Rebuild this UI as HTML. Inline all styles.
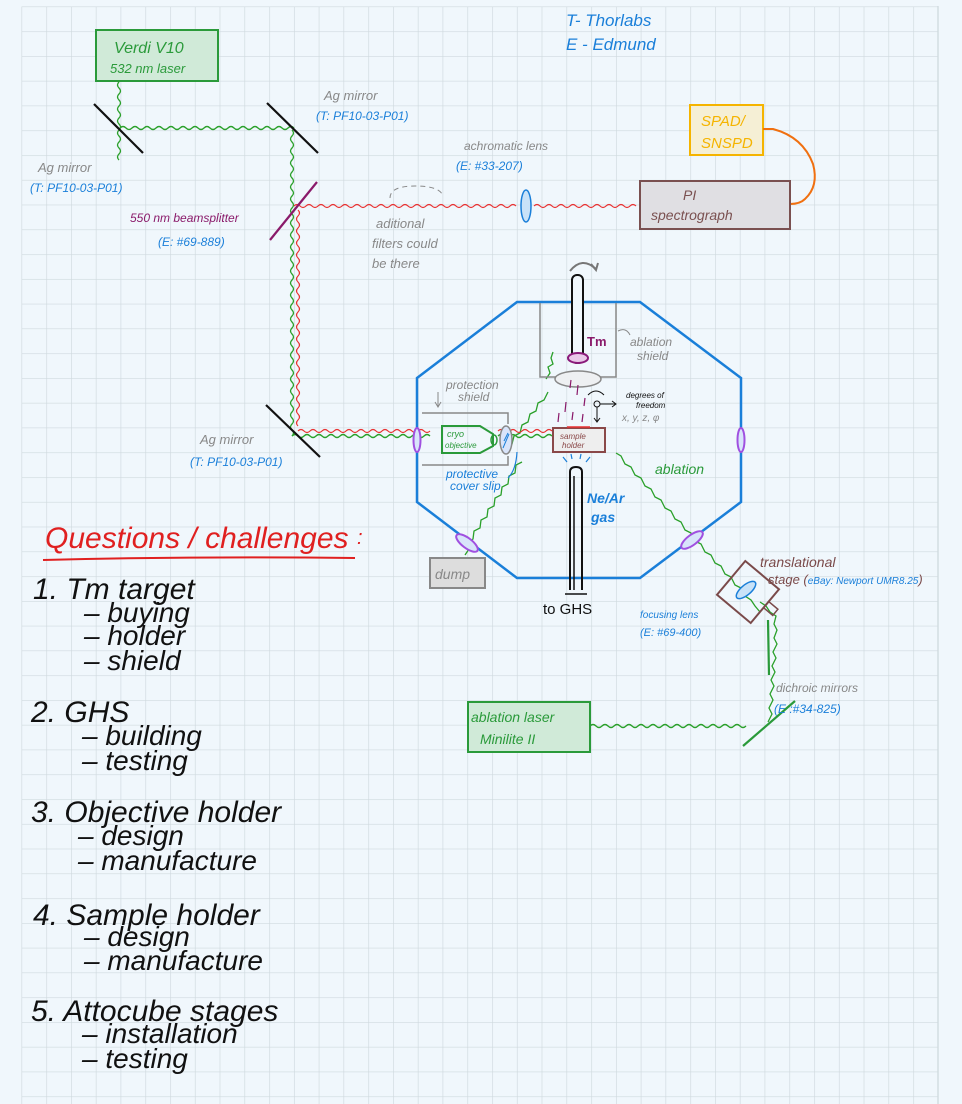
<!DOCTYPE html>
<html><head><meta charset="utf-8"><style>
html,body{margin:0;padding:0;background:#f0f7fc}
svg{display:block}
text{font-family:"Liberation Sans",sans-serif;font-style:italic}
</style></head><body>
<svg width="962" height="1104" viewBox="0 0 962 1104" xmlns="http://www.w3.org/2000/svg">
<defs>
<pattern id="g" x="21.5" y="6.5" width="24.77" height="24.77" patternUnits="userSpaceOnUse">
<path d="M0 0H24.77M0 0V24.77" stroke="#cfd9de" stroke-width="1.3" fill="none"/>
</pattern>
</defs>
<rect width="962" height="1104" fill="#f0f7fc"/>
<rect x="21.5" y="6.5" width="916.5" height="1098" fill="url(#g)"/>
<rect x="938" y="0" width="24" height="1104" fill="#f0f7fc"/>
<line x1="938" y1="6" x2="938" y2="1104" stroke="#cfd9de" stroke-width="1.3"/>

<text x="566" y="26" font-size="17" fill="#1a7fd9">T- Thorlabs</text>
<text x="566" y="50" font-size="17" fill="#1a7fd9">E - Edmund</text>

<rect x="96" y="30" width="122" height="51" fill="#d0ead8" stroke="#2a9a3a" stroke-width="2"/>
<text x="114" y="53" font-size="16" fill="#2a9a3a">Verdi V10</text>
<text x="110" y="73" font-size="13" fill="#2a9a3a">532 nm laser</text>

<g fill="none" stroke="#2aa02a" stroke-width="1.3">
<path d="M119 82 q-3 3 0 6 t0 6 t0 6 t0 6 t0 6 t0 6 t0 6 t0 6 t0 6 t0 6 t0 6 t0 6 t0 6"/>
<path d="M120 128 q3 -3 6 0 t6 0 t6 0 t6 0 t6 0 t6 0 t6 0 t6 0 t6 0 t6 0 t6 0 t6 0 t6 0 t6 0 t6 0 t6 0 t6 0 t6 0 t6 0 t6 0 t6 0 t6 0 t6 0 t6 0 t6 0 t6 0 t6 0 t6 0 t6 0"/>
<path d="M292 130 q3 3 0 6 t0 6 t0 6 t0 6 t0 6 t0 6 t0 6 t0 6 t0 6 t0 6 t0 6 t0 6 t0 6 t0 6 t0 6 t0 6 t0 6 t0 6 t0 6 t0 6 t0 6 t0 6 t0 6 t0 6 t0 6 t0 6 t0 6 t0 6 t0 6 t0 6 t0 6 t0 6 t0 6 t0 6 t0 6 t0 6 t0 6 t0 6 t0 6 t0 6 t0 6 t0 6 t0 6 t0 6 t0 6 t0 6 t0 6 t0 6 t0 6 t0 6 t0 6"/>
<path d="M292 436 q3 -3 6 0 t6 0 t6 0 t6 0 t6 0 t6 0 t6 0 t6 0 t6 0 t6 0 t6 0 t6 0 t6 0 t6 0 t6 0 t6 0 t6 0 t6 0 t6 0 t6 0 t6 0 t6 0 t6 0"/>
<path d="M498 436 q3 -3 6 0 t6 0 t6 0 t6 0 t6 0 t6 0 t6 0 t6 0 t6 0"/>
<path d="M590 726 q3 -3 6 0 t6 0 t6 0 t6 0 t6 0 t6 0 t6 0 t6 0 t6 0 t6 0 t6 0 t6 0 t6 0 t6 0 t6 0 t6 0 t6 0 t6 0 t6 0 t6 0 t6 0 t6 0 t6 0 t6 0 t6 0 t6 0"/>
<path d="M768 722 l4 -8 l-3 -6 l4 -8 l-3 -6 l4 -8 l-3 -6 l4 -8 l-3 -6 l4 -8 l-3 -6 l4 -8 l-3 -6 l3 -8 l-3 -6 l2 -8 l-6 -4 l-4 -6 l-6 -4"/>
<path d="M760 612 l-5 -6 l-4 -6 l-6 -4 l-4 -8 l-6 -3 l-4 -8 l-6 -3 l-4 -8 l-6 -3 l-4 -8 l-6 -3 l-4 -8 l-6 -3 l-4 -8 l-6 -3 l-4 -8 l-6 -3 l-4 -8 l-6 -3 l-4 -8 l-6 -3 l-4 -8 l-6 -3 l-4 -8 l-6 -3 l-4 -8 l-6 -3 l-4 -8 l-5 -3"/>
<path d="M465 555 l4 -6 l-2 -6 l6 -4 l1 -8 l6 -3 l1 -8 l6 -3 l1 -8 l6 -3 l1 -8 l6 -3 l1 -8 l6 -3 l1 -8 l6 -3 l1 -8 l6 -3"/>
<path d="M546 379 l4 -6 l-2 -6 l5 -3 l-2 -6 l2 -6 M548 392 l-4 8 l-6 3 l-2 8 l-6 3 l-2 8 l-6 3 l-2 8 l-6 3 l-2 8 l-6 3"/>
</g>
<g fill="none" stroke="#e83030" stroke-width="1.2">
<path d="M294 206 q3 -3 6 0 t6 0 t6 0 t6 0 t6 0 t6 0 t6 0 t6 0 t6 0 t6 0 t6 0 t6 0 t6 0 t6 0 t6 0 t6 0 t6 0 t6 0 t6 0 t6 0 t6 0 t6 0 t6 0 t6 0 t6 0 t6 0 t6 0 t6 0 t6 0 t6 0 t6 0 t6 0 t6 0 t6 0 t6 0 t6 0 t6 0"/>
<path d="M534 206 q3 -3 6 0 t6 0 t6 0 t6 0 t6 0 t6 0 t6 0 t6 0 t6 0 t6 0 t6 0 t6 0 t6 0 t6 0 t6 0 t6 0 t6 0"/>
<path d="M298 210 q3 3 0 6 t0 6 t0 6 t0 6 t0 6 t0 6 t0 6 t0 6 t0 6 t0 6 t0 6 t0 6 t0 6 t0 6 t0 6 t0 6 t0 6 t0 6 t0 6 t0 6 t0 6 t0 6 t0 6 t0 6 t0 6 t0 6 t0 6 t0 6 t0 6 t0 6 t0 6 t0 6 t0 6 t0 6 t0 6 t0 6"/>
<path d="M298 431 q3 -3 6 0 t6 0 t6 0 t6 0 t6 0 t6 0 t6 0 t6 0 t6 0 t6 0 t6 0 t6 0 t6 0 t6 0 t6 0 t6 0 t6 0 t6 0 t6 0 t6 0 t6 0 t6 0"/>
<path d="M498 431 q3 -3 6 0 t6 0 t6 0 t6 0 t6 0 t6 0 t6 0 t6 0 t6 0"/>
</g>

<g stroke="#111" stroke-width="2.2">
<line x1="94" y1="104" x2="143" y2="153"/>
<line x1="267" y1="103" x2="318" y2="153"/>
<line x1="266" y1="405" x2="320" y2="457"/>
</g>
<line x1="270" y1="240" x2="317" y2="182" stroke="#8a1a6a" stroke-width="2.2"/>

<text x="324" y="100" font-size="13" fill="#888">Ag mirror</text>
<text x="316" y="120" font-size="12" fill="#1a7fd9">(T: PF10-03-P01)</text>
<text x="38" y="172" font-size="13" fill="#888">Ag mirror</text>
<text x="30" y="192" font-size="12" fill="#1a7fd9">(T: PF10-03-P01)</text>
<text x="130" y="222" font-size="12" fill="#8a1a6a">550 nm beamsplitter</text>
<text x="158" y="246" font-size="12" fill="#1a7fd9">(E: #69-889)</text>
<text x="200" y="444" font-size="13" fill="#888">Ag mirror</text>
<text x="190" y="466" font-size="12" fill="#1a7fd9">(T: PF10-03-P01)</text>

<text x="464" y="150" font-size="12" fill="#888">achromatic lens</text>
<text x="456" y="170" font-size="12" fill="#1a7fd9">(E: #33-207)</text>
<ellipse cx="526" cy="206" rx="5" ry="16" fill="#c8e2f8" stroke="#1a7fd9" stroke-width="1.5"/>
<path d="M390 198 q0 -12 25 -12 q25 0 28 10" fill="none" stroke="#888" stroke-dasharray="5 4"/>
<text x="376" y="228" font-size="13" fill="#888">aditional</text>
<text x="372" y="248" font-size="13" fill="#888">filters could</text>
<text x="372" y="268" font-size="13" fill="#888">be there</text>

<rect x="690" y="105" width="73" height="50" fill="#f5efd5" stroke="#f5b400" stroke-width="2"/>
<text x="701" y="126" font-size="15" fill="#f5b400">SPAD/</text>
<text x="701" y="148" font-size="15" fill="#f5b400">SNSPD</text>
<path d="M763 129 h10 q30 8 40 35 q6 22 -8 35 q-5 5 -15 5" fill="none" stroke="#f07010" stroke-width="2"/>
<rect x="640" y="181" width="150" height="48" fill="#e0dfe3" stroke="#7a5050" stroke-width="2"/>
<text x="683" y="200" font-size="14" fill="#7a5050">PI</text>
<text x="651" y="220" font-size="14" fill="#7a5050">spectrograph</text>

<polygon points="517,302 640,302 741,378 741,502 640,578 517,578 417,502 417,378" fill="none" stroke="#1a7fd9" stroke-width="2.5"/>
<g fill="#d8e4fa" stroke="#a050e0" stroke-width="2">
<ellipse cx="417" cy="440" rx="3.5" ry="12"/>
<ellipse cx="741" cy="440" rx="3.5" ry="12"/>
<ellipse cx="467" cy="543" rx="13" ry="5" transform="rotate(37 467 543)"/>
<ellipse cx="692" cy="540" rx="13" ry="5" transform="rotate(-37 692 540)"/>
</g>
<path d="M540 303 V377 H616 V303" fill="none" stroke="#888" stroke-width="1.5"/>
<ellipse cx="578" cy="379" rx="23" ry="8" fill="#eef0f2" stroke="#888" stroke-width="1.5"/>
<rect x="572" y="275" width="11" height="88" rx="5" fill="#f0f7fc" stroke="#111" stroke-width="2"/>
<ellipse cx="578" cy="358" rx="10" ry="5" fill="#e8c8e8" stroke="#8a1a7a" stroke-width="2"/>
<path d="M570 271 q12 -15 26 -2" fill="none" stroke="#777" stroke-width="2"/>
<path d="M591 264 l5 6 l2 -7" fill="none" stroke="#777" stroke-width="2"/>
<text x="587" y="346" font-size="13" fill="#8a1a6a" font-weight="bold" style="font-style:normal">Tm</text>
<text x="630" y="346" font-size="12" fill="#888">ablation</text>
<text x="637" y="360" font-size="12" fill="#888">shield</text>
<path d="M618 331 q8 -4 12 4" fill="none" stroke="#888"/>
<g stroke="#8a1a6a" stroke-width="1.2">
<line x1="571" y1="380" x2="570" y2="388"/><line x1="578" y1="385" x2="577" y2="395"/>
<line x1="585" y1="398" x2="584" y2="406"/><line x1="566" y1="402" x2="565" y2="412"/>
<line x1="573" y1="412" x2="572" y2="420"/><line x1="559" y1="413" x2="558" y2="422"/>
<line x1="583" y1="414" x2="582" y2="422"/>
</g>
<rect x="553" y="428" width="52" height="24" fill="#eee" stroke="#8a4848" stroke-width="2"/>
<line x1="567" y1="427" x2="590" y2="427" stroke="#e83030" stroke-width="1.5"/>
<text x="560" y="439" font-size="8" fill="#8a4848">sample</text>
<text x="562" y="448" font-size="8" fill="#8a4848">holder</text>
<circle cx="597" cy="404" r="3" fill="none" stroke="#111"/>
<path d="M600 404 h16 M612 401 l4 3 l-4 3 M597 407 v14 M594 418 l3 4 l3 -4" fill="none" stroke="#111"/>
<path d="M588 395 q8 -8 16 0" fill="none" stroke="#111"/>
<text x="626" y="398" font-size="8" fill="#111">degrees of</text>
<text x="636" y="408" font-size="8" fill="#111">freedom</text>
<text x="622" y="421" font-size="10" fill="#888">x, y, z, φ</text>
<g stroke="#1a7fd9" stroke-width="1.2"><line x1="567" y1="462" x2="563" y2="457"/><line x1="572" y1="459" x2="571" y2="454"/><line x1="580" y1="459" x2="581" y2="454"/><line x1="586" y1="462" x2="590" y2="457"/></g>
<path d="M570 590 V472 q0 -5 6 -5 q6 0 6 5 V590" fill="none" stroke="#111" stroke-width="2"/>
<path d="M574 476 V590" stroke="#111" stroke-width="1.5"/>
<path d="M565 594 h22" stroke="#111" stroke-width="1.5"/>
<text x="587" y="503" font-size="14" fill="#1a7fd9" font-weight="bold">Ne/Ar</text>
<text x="591" y="522" font-size="14" fill="#1a7fd9" font-weight="bold">gas</text>
<text x="543" y="614" font-size="15" fill="#111" style="font-style:normal">to GHS</text>
<text x="655" y="474" font-size="14" fill="#2a9a3a">ablation</text>
<path d="M422 413 H508 V424 M508 456 V465 H422" fill="none" stroke="#888" stroke-width="1.5"/>
<text x="446" y="389" font-size="12" fill="#888">protection</text>
<text x="458" y="401" font-size="12" fill="#888">shield</text>
<path d="M438 392 v14 M435 402 l3 5 l3 -5" fill="none" stroke="#888"/>
<path d="M442 426 H480 L493 434 V446 L480 453 H442 Z" fill="none" stroke="#2a9a3a" stroke-width="2"/>
<ellipse cx="494" cy="440" rx="3" ry="5" fill="none" stroke="#2a9a3a" stroke-width="1.5"/>
<text x="447" y="437" font-size="9" fill="#2a9a3a">cryo</text>
<text x="445" y="448" font-size="8" fill="#2a9a3a">objective</text>
<ellipse cx="506" cy="440" rx="6" ry="14" fill="#d8e4fa" stroke="#888" stroke-width="1.5"/>
<path d="M503 448 l6 -14 M504 441 l4 -8" stroke="#1a7fd9"/>
<text x="446" y="478" font-size="12" fill="#1a7fd9">protective</text>
<text x="450" y="490" font-size="12" fill="#1a7fd9">cover slip</text>
<path d="M508 478 q8 -8 9 -26" fill="none" stroke="#1a7fd9" stroke-width="1.2"/>
<rect x="430" y="558" width="55" height="30" fill="#ddd" stroke="#888" stroke-width="2"/>
<text x="435" y="579" font-size="14" fill="#888">dump</text>

<g transform="rotate(40 748 592)">
<rect x="726" y="570" width="44" height="44" fill="none" stroke="#7a4a4a" stroke-width="2"/>
<rect x="770" y="586" width="12" height="8" fill="none" stroke="#7a4a4a" stroke-width="1.5"/>
</g>
<ellipse cx="746" cy="590" rx="5" ry="12" transform="rotate(50 746 590)" fill="#c8e2f8" stroke="#1a7fd9" stroke-width="1.5"/>
<text x="760" y="567" font-size="14" fill="#7a4a4a">translational</text>
<text x="768" y="584" font-size="13" fill="#7a4a4a">stage (<tspan fill="#1a7fd9" font-size="10">eBay: Newport UMR8.25</tspan>)</text>
<text x="640" y="618" font-size="10" fill="#1a7fd9">focusing lens</text>
<text x="640" y="636" font-size="11" fill="#1a7fd9">(E: #69-400)</text>
<line x1="768" y1="620" x2="769" y2="675" stroke="#2a9a3a" stroke-width="2.2"/>
<line x1="743" y1="746" x2="795" y2="701" stroke="#2a9a3a" stroke-width="2.2"/>
<text x="776" y="692" font-size="12" fill="#888">dichroic mirrors</text>
<text x="774" y="713" font-size="12" fill="#1a7fd9">(E :#34-825)</text>
<rect x="468" y="702" width="122" height="50" fill="#d0ead8" stroke="#2a9a3a" stroke-width="2"/>
<text x="471" y="722" font-size="14" fill="#2a9a3a">ablation laser</text>
<text x="480" y="744" font-size="14" fill="#2a9a3a">Minilite II</text>

<text x="45" y="548" font-size="30" fill="#e02020">Questions / challenges</text>
<text x="357" y="544" font-size="20" fill="#e02020">:</text>
<path d="M43 560 Q200 556 355 558" fill="none" stroke="#e02020" stroke-width="2"/>
<g fill="#111" font-size="30">
<text x="33" y="599">1.  Tm target</text>
<text x="84" y="622" font-size="28">– buying</text>
<text x="84" y="645" font-size="28">– holder</text>
<text x="84" y="670" font-size="28">– shield</text>
<text x="31" y="722">2.  GHS</text>
<text x="82" y="745" font-size="28">– building</text>
<text x="82" y="770" font-size="28">– testing</text>
<text x="31" y="822">3. Objective holder</text>
<text x="78" y="845" font-size="28">– design</text>
<text x="78" y="870" font-size="28">– manufacture</text>
<text x="33" y="925">4. Sample holder</text>
<text x="84" y="946" font-size="28">– design</text>
<text x="84" y="970" font-size="28">– manufacture</text>
<text x="31" y="1021">5. Attocube stages</text>
<text x="82" y="1043" font-size="28">– installation</text>
<text x="82" y="1068" font-size="28">– testing</text>
</g>
</svg>
</body></html>
